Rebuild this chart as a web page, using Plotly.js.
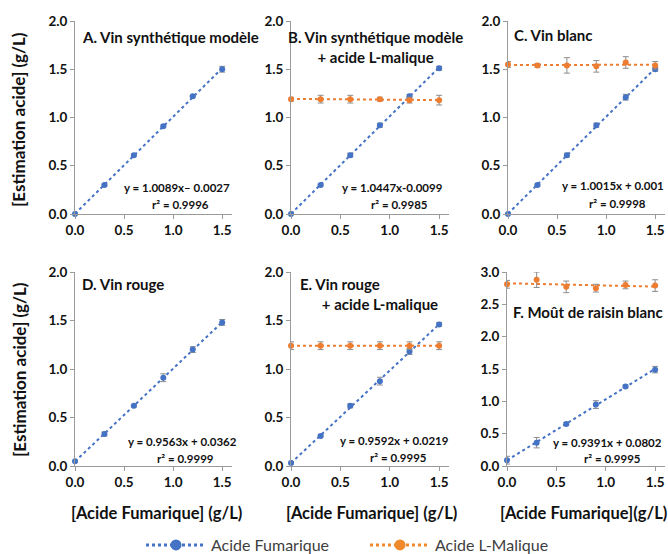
<!DOCTYPE html>
<html>
<head>
<meta charset="utf-8">
<script src="https://cdn.plot.ly/plotly-3.0.1.min.js"></script>
<style>html,body{margin:0;padding:0;background:#fff;}#chart{width:668px;height:554px;}</style>
</head>
<body>
<div id="chart"></div>
<script>
// ---------- data ----------
const xVals = [0, 0.3, 0.6, 0.9, 1.2, 1.5];

const fumA = [0.00, 0.30, 0.61, 0.91, 1.22, 1.50];
const fumAErr = [0.01, 0.01, 0.01, 0.01, 0.01, 0.03];

const fumB = [0.00, 0.30, 0.61, 0.92, 1.22, 1.51];
const fumBErr = [0.02, 0.01, 0.02, 0.02, 0.02, 0.02];
const malB = [1.19, 1.19, 1.19, 1.19, 1.18, 1.18];
const malBErr = [0.02, 0.04, 0.04, 0.02, 0.03, 0.05];

const fumC = [0.00, 0.30, 0.61, 0.92, 1.21, 1.50];
const fumCErr = [0.01, 0.01, 0.02, 0.02, 0.03, 0.02];
const malC = [1.55, 1.54, 1.54, 1.53, 1.57, 1.54];
const malCErr = [0.03, 0.02, 0.08, 0.06, 0.06, 0.04];

const fumD = [0.05, 0.33, 0.62, 0.91, 1.20, 1.48];
const fumDErr = [0.01, 0.02, 0.01, 0.04, 0.03, 0.03];

const fumE = [0.03, 0.31, 0.62, 0.875, 1.18, 1.46];
const fumEErr = [0.01, 0.01, 0.02, 0.04, 0.03, 0.02];
const malE = [1.24, 1.24, 1.24, 1.24, 1.24, 1.24];
const malEErr = [0.04, 0.04, 0.04, 0.04, 0.04, 0.04];

const fumF = [0.09, 0.36, 0.65, 0.95, 1.23, 1.49];
const fumFErr = [0.06, 0.08, 0.02, 0.06, 0.02, 0.05];
const malF = [2.81, 2.88, 2.77, 2.75, 2.80, 2.79];
const malFErr = [0.06, 0.12, 0.09, 0.06, 0.06, 0.09];

const panelTitles = ["A. Vin synthétique modèle", "B. Vin synthétique modèle<br>+ acide L-malique", "C. Vin blanc",
                     "D. Vin rouge", "E. Vin rouge<br>      + acide L-malique", "F. Moût de raisin blanc"];
const equations = ["y = 1.0089x– 0.0027", "y = 1.0447x-0.0099", "y = 1.0015x + 0.001",
                   "y = 0.9563x + 0.0362", "y = 0.9592x + 0.0219", "y = 0.9391x + 0.0802"];
const r2Labels = ["r² = 0.9996", "r² = 0.9985", "r² = 0.9998", "r² = 0.9999", "r² = 0.9995", "r² = 0.9995"];
const xTicks = [0, 0.5, 1.0, 1.5];
const xTickText = ["0.0", "0.5", "1.0", "1.5"];
const yTicks2 = [0, 0.5, 1.0, 1.5, 2.0];
const yTicks3 = [0, 0.5, 1.0, 1.5, 2.0, 2.5, 3.0];
const yTitle = "[Estimation acide] (g/L)";
const xTitles = ["[Acide Fumarique] (g/L)", "[Acide Fumarique] (g/L)", "[Acide Fumarique](g/L)"];
const seriesNames = ["Acide Fumarique", "Acide L-Malique"];

// ---------- styling ----------
const BLUE = "#4472C4", ORANGE = "#ED7D31";
const FONT = "Lato, 'Open Sans', sans-serif";
const W = 668, H = 554;
const px = v => v / W, py = v => 1 - v / H;

function linfit(x, y) {
  const n = x.length;
  const mx = x.reduce((a, b) => a + b, 0) / n, my = y.reduce((a, b) => a + b, 0) / n;
  let sxy = 0, sxx = 0;
  for (let i = 0; i < n; i++) { sxy += (x[i] - mx) * (y[i] - my); sxx += (x[i] - mx) ** 2; }
  const m = sxy / sxx;
  return [m, my - m * mx];
}

const panels = [
  {fum: fumA, fumErr: fumAErr, mal: null, malErr: null},
  {fum: fumB, fumErr: fumBErr, mal: malB, malErr: malBErr},
  {fum: fumC, fumErr: fumCErr, mal: malC, malErr: malCErr},
  {fum: fumD, fumErr: fumDErr, mal: null, malErr: null},
  {fum: fumE, fumErr: fumEErr, mal: malE, malErr: malEErr},
  {fum: fumF, fumErr: fumFErr, mal: malF, malErr: malFErr},
];

// pixel geometry of each plot area [left, right, top(px of max), bottom(px of 0)]
const geom = [
  [75, 232, 21, 214], [291, 449, 21, 214], [508, 665, 21, 214],
  [75, 232, 272, 466], [291, 449, 272, 466], [507, 665, 272, 466],
];

const traces = [];
const layout = {
  width: W, height: H,
  margin: {l: 0, r: 0, t: 0, b: 0, autoexpand: false},
  paper_bgcolor: "#fff", plot_bgcolor: "rgba(0,0,0,0)",
  font: {family: FONT, color: "#000"},
  showlegend: true,
  legend: {
    orientation: "h", x: px(141), xanchor: "left", y: py(545), yanchor: "middle",
    font: {family: FONT, size: 16, color: "#404040"},
    itemwidth: 60, entrywidth: 149, entrywidthmode: "pixels",
    bgcolor: "rgba(0,0,0,0)"
  },
  annotations: []
};

function errorStyle(arr) {
  return {type: "data", array: arr, visible: true, color: "#8c8c8c", thickness: 1, width: 3};
}

panels.forEach((p, i) => {
  const k = i + 1;
  const xa = "x" + (k === 1 ? "" : k), ya = "y" + (k === 1 ? "" : k);
  const [L, R, T, B] = geom[i];
  const ymax = i === 5 ? 3 : 2;

  // trend lines
  const series = [[p.fum, p.fumErr, BLUE]];
  if (p.mal) series.push([p.mal, p.malErr, ORANGE]);
  series.forEach(([ys, es, col]) => {
    const [m, b] = linfit(xVals, ys);
    const x0 = xVals[0], x1 = xVals[xVals.length - 1];
    traces.push({x: [x0, x1], y: [m * x0 + b, m * x1 + b], xaxis: xa, yaxis: ya, mode: "lines",
      line: {color: col, width: 2, dash: "dot"}, showlegend: false, hoverinfo: "skip", cliponaxis: false});
    traces.push({x: xVals, y: ys, xaxis: xa, yaxis: ya, mode: "markers",
      marker: {color: col, size: 6}, error_y: errorStyle(es), showlegend: false, cliponaxis: false});
  });

  const axStyle = {
    showline: true, linecolor: "#9a9a9a", linewidth: 1, ticks: "outside", ticklen: 4, tickcolor: "#9a9a9a",
    showgrid: false, zeroline: false, tickfont: {family: FONT, size: 13.5, color: "#111", weight: "bold"},
    fixedrange: true
  };
  layout["xaxis" + (k === 1 ? "" : k)] = Object.assign({}, axStyle, {
    domain: [px(L), px(R)], range: [0, 1.6], tickvals: xTicks, ticktext: xTickText,
    anchor: ya, ticklabelstandoff: 0
  });
  layout["yaxis" + (k === 1 ? "" : k)] = Object.assign({}, axStyle, {
    domain: [py(B), py(T)], range: [0, ymax], tickvals: ymax === 3 ? yTicks3 : yTicks2,
    tickformat: ".1f", anchor: xa
  });

  // equation annotations
  const eqPos = [[177, 187, 180, 205], [392, 187, 399, 205], [613, 185, 617, 203],
                 [182, 441, 185, 458], [394, 440, 398, 457], [607, 442, 612, 458]][i];
  layout.annotations.push({xref: "paper", yref: "paper", x: px(eqPos[0]), y: py(eqPos[1]),
    text: equations[i], showarrow: false, xanchor: "center", yanchor: "middle",
    font: {family: FONT, size: 11.5, color: "#111", weight: "bold"}});
  layout.annotations.push({xref: "paper", yref: "paper", x: px(eqPos[2]), y: py(eqPos[3]),
    text: r2Labels[i], showarrow: false, xanchor: "center", yanchor: "middle",
    font: {family: FONT, size: 11.5, color: "#111", weight: "bold"}});
});

// panel titles
const titlePos = [
  {x: 80, y: 37, anchor: "left", align: "left"},
  {x: 375, y: 47, anchor: "center", align: "center"},
  {x: 512, y: 35, anchor: "left", align: "left"},
  {x: 80, y: 284, anchor: "left", align: "left"},
  {x: 298, y: 294, anchor: "left", align: "left"},
  {x: 511, y: 312, anchor: "left", align: "left"},
];
titlePos.forEach((t, i) => {
  layout.annotations.push({xref: "paper", yref: "paper", x: px(t.x), y: py(t.y), text: panelTitles[i],
    showarrow: false, xanchor: t.anchor, yanchor: "middle", align: t.align,
    font: {family: FONT, size: 15, color: "#111", weight: "bold"}});
});

// axis titles
[[19, 120], [19, 370]].forEach(([x, y]) => {
  layout.annotations.push({xref: "paper", yref: "paper", x: px(x), y: py(y), text: yTitle, textangle: -90,
    showarrow: false, xanchor: "center", yanchor: "middle", font: {family: FONT, size: 17, color: "#111", weight: "bold"}});
});
[[156, 513], [372, 513], [583, 513]].forEach(([x, y], i) => {
  layout.annotations.push({xref: "paper", yref: "paper", x: px(x), y: py(y), text: xTitles[i],
    showarrow: false, xanchor: "center", yanchor: "middle", font: {family: FONT, size: 16.5, color: "#111", weight: "bold"}});
});

// legend entries
[[seriesNames[0], BLUE], [seriesNames[1], "#F08A2C"]].forEach(([name, col]) => {
  traces.push({x: [null], y: [null], mode: "lines+markers", name: name,
    line: {color: col, width: 3, dash: "dot"}, marker: {color: col, size: 11}, hoverinfo: "skip"});
});

Plotly.newPlot("chart", traces, layout, {displayModeBar: false, staticPlot: true});
</script>
</body>
</html>
